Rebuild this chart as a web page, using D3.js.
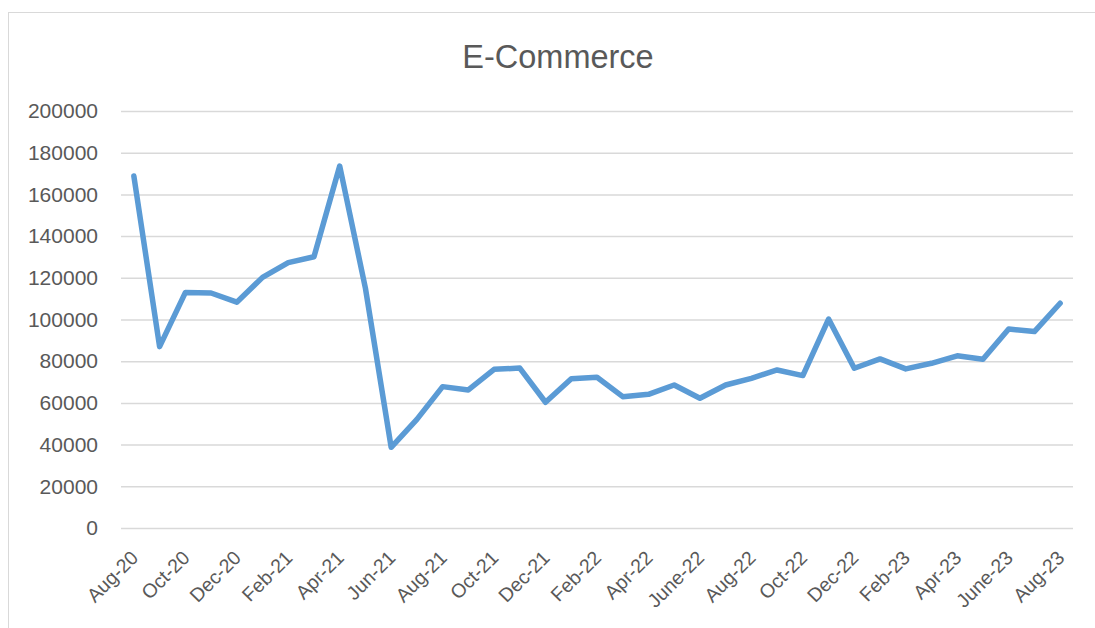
<!DOCTYPE html>
<html>
<head>
<meta charset="utf-8">
<script src="https://cdn.jsdelivr.net/npm/d3@7"></script>
<style>
  html, body { margin: 0; padding: 0; background: #fff; }
  svg { display: block; font-family: "Liberation Sans", Arial, sans-serif; }
</style>
</head>
<body>
<svg id="chart"></svg>
<script>
const months = [
  "Aug-20", "Sep-20", "Oct-20", "Nov-20", "Dec-20", "Jan-21", "Feb-21", "Mar-21", "Apr-21",
  "May-21", "Jun-21", "Jul-21", "Aug-21", "Sep-21", "Oct-21", "Nov-21", "Dec-21", "Jan-22",
  "Feb-22", "Mar-22", "Apr-22", "May-22", "June-22", "Jul-22", "Aug-22", "Sep-22", "Oct-22",
  "Nov-22", "Dec-22", "Jan-23", "Feb-23", "Mar-23", "Apr-23", "May-23", "June-23", "Jul-23", "Aug-23"
];
const sales = [
  168800, 87000, 112900, 112700, 108300, 120200, 127300, 130100, 173600,
  115000, 38700, 52100, 67800, 66200, 76100, 76700, 60300, 71600,
  72300, 63000, 64100, 68600, 62200, 68600, 71800, 75800, 73100,
  100200, 76600, 81100, 76300, 79000, 82600, 80900, 95400, 94200, 107800
];
const yTicks = [0, 20000, 40000, 60000, 80000, 100000, 120000, 140000, 160000, 180000, 200000];

const width = 1095, height = 628;
const margin = { top: 111, right: 22, bottom: 100, left: 121 };

const svg = d3.select("#chart").attr("width", width).attr("height", height);

// chart frame
svg.append("rect")
  .attr("x", 8.5).attr("y", 12.5)
  .attr("width", width + 20).attr("height", height + 20)
  .attr("fill", "none").attr("stroke", "#d9d9d9").attr("stroke-width", 1);

const x = d3.scalePoint().domain(months)
  .range([margin.left, width - margin.right]).padding(0.5);
const y = d3.scaleLinear().domain([0, 200000])
  .range([height - margin.bottom, margin.top]);

// gridlines + y labels
const yAxis = svg.append("g")
  .attr("transform", `translate(${margin.left},0)`)
  .call(d3.axisLeft(y).tickValues(yTicks).tickFormat(d3.format("d"))
    .tickSize(-(width - margin.left - margin.right)).tickPadding(23));
yAxis.select(".domain").remove();
yAxis.selectAll(".tick line").attr("stroke", "#d9d9d9").attr("stroke-width", 1.5);
yAxis.selectAll(".tick text")
  .attr("fill", "#595959")
  .style("font-size", "21px");

// x labels, every second month
const xAxis = svg.append("g")
  .attr("transform", `translate(0,${y(0)})`)
  .call(d3.axisBottom(x).tickValues(months.filter((d, i) => i % 2 === 0)).tickSize(0));
xAxis.select(".domain").remove();
xAxis.selectAll(".tick text")
  .attr("fill", "#595959")
  .style("font-size", "19.5px")
  .style("text-anchor", "end")
  .attr("dy", null)
  .attr("y", 0)
  .attr("transform", "translate(5,31) rotate(-45)");

// series
svg.append("path")
  .datum(sales)
  .attr("fill", "none")
  .attr("stroke", "#5b9bd5")
  .attr("stroke-width", 5.5)
  .attr("stroke-linejoin", "round")
  .attr("stroke-linecap", "round")
  .attr("d", d3.line().x((d, i) => x(months[i])).y(d => y(d)));

svg.append("text")
  .attr("x", 558).attr("y", 68)
  .attr("text-anchor", "middle")
  .attr("fill", "#595959")
  .style("font-size", "32.5px")
  .text("E-Commerce");
</script>
</body>
</html>
